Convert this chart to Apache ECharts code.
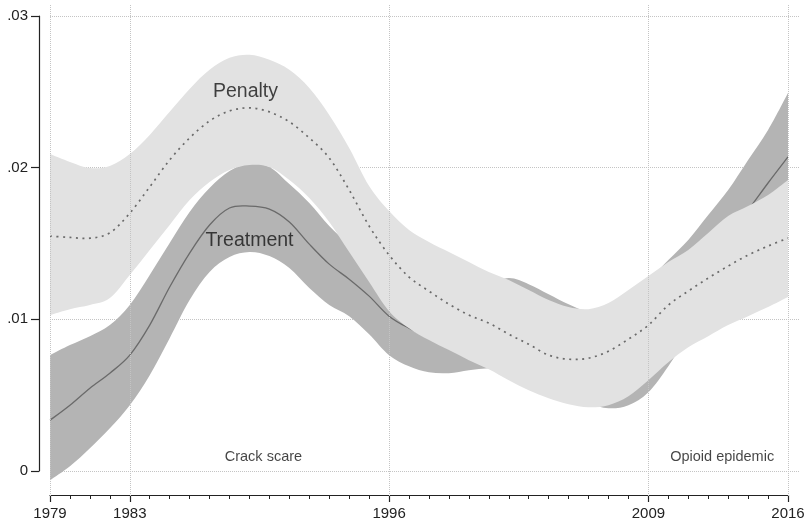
<!DOCTYPE html>
<html><head><meta charset="utf-8">
<script src="https://cdn.jsdelivr.net/npm/echarts@6/dist/echarts.min.js"></script>
<style>html,body{margin:0;padding:0;background:#fff}#c{width:810px;height:523px}</style>
</head><body><div id="c"></div>
<script>
const years = [1979,1980,1981,1982,1983,1984,1985,1986,1987,1988,1989,1990,1991,1992,1993,1994,1995,1996,1997,1998,1999,2000,2001,2002,2003,2004,2005,2006,2007,2008,2009,2010,2011,2012,2013,2014,2015,2016];
const penaltyUpper = [.02090,.02038,.01998,.02011,.02090,.02216,.02368,.02519,.02645,.02724,.02744,.02711,.02645,.02526,.02348,.02130,.01879,.01714,.01589,.01510,.01444,.01378,.01312,.01259,.01193,.01127,.01081,.01067,.01107,.01193,.01285,.01378,.01457,.01569,.01681,.01747,.01820,.01919];
const penaltyMid = [.01549,.01540,.01535,.01570,.01700,.01873,.02051,.02196,.02308,.02374,.02394,.02368,.02302,.02196,.02064,.01853,.01615,.01424,.01279,.01186,.01100,.01028,.00975,.00902,.00836,.00764,.00737,.00744,.00790,.00869,.00962,.01094,.01186,.01272,.01351,.01424,.01483,.01536];
const penaltyLower = [.01028,.01067,.01094,.01140,.01292,.01457,.01622,.01787,.01906,.01985,.02018,.02005,.01919,.01800,.01642,.01444,.01246,.01054,.00942,.00863,.00797,.00731,.00671,.00599,.00533,.00480,.00440,.00420,.00434,.00493,.00599,.00717,.00816,.00889,.00962,.01021,.01081,.01147];
const treatUpper = [.00764,.00830,.00889,.00962,.01094,.01292,.01503,.01708,.01866,.01978,.02024,.02005,.01892,.01767,.01615,.01490,.01378,.01292,.01193,.01127,.01127,.01160,.01226,.01272,.01232,.01166,.01100,.01048,.01048,.01140,.01259,.01391,.01523,.01688,.01853,.02051,.02249,.02493];
const treatMid = [.00335,.00434,.00546,.00645,.00764,.00962,.01213,.01437,.01622,.01734,.01747,.01727,.01642,.01496,.01364,.01265,.01153,.01021,.00942,.00883,.00876,.00902,.00942,.00975,.00929,.00863,.00797,.00750,.00731,.00784,.00883,.01048,.01213,.01391,.01556,.01721,.01899,.02071];
const treatLower = [-.00061,.00031,.00150,.00282,.00434,.00632,.00876,.01127,.01312,.01411,.01444,.01417,.01338,.01206,.01094,.01021,.00902,.00764,.00691,.00651,.00645,.00665,.00678,.00678,.00632,.00566,.00500,.00447,.00414,.00434,.00519,.00691,.00896,.01094,.01259,.01404,.01536,.01648];
const xTickYears = [1979,1983,1996,2009,2016];
const yTicks = [0,0.01,0.02,0.03];
const yTickLabels = ['0','.01','.02','.03'];
const seriesLabels = ['Penalty','Treatment'];
const periodLabels = ['Crack scare','Opioid epidemic'];
// label anchors in data coordinates [year, value]
const labelAnchors = [[1988.8,0.0250],[1989.0,0.0152],[1989.7,0.0009],[2012.7,0.0009]];

const FONT = "'Liberation Sans', Arial, sans-serif";

// smooth path through screen points (Catmull-Rom -> cubic Bezier)
function curveTo(pts){
  let d = '';
  const n = pts.length;
  for (let i=0;i<n-1;i++){
    const p0 = pts[Math.max(i-1,0)], p1 = pts[i], p2 = pts[i+1], p3 = pts[Math.min(i+2,n-1)];
    const c1 = [p1[0]+(p2[0]-p0[0])/6, p1[1]+(p2[1]-p0[1])/6];
    const c2 = [p2[0]-(p3[0]-p1[0])/6, p2[1]-(p3[1]-p1[1])/6];
    d += ' C'+c1[0]+','+c1[1]+' '+c2[0]+','+c2[1]+' '+p2[0]+','+p2[1];
  }
  return d;
}
function band(upper, lower, color, z){
  return {
    type:'custom', xAxisIndex:0, yAxisIndex:0, silent:true, clip:false, z:z,
    data:[[years[0], lower[0]]],
    renderItem:function(params, api){
      const up = years.map((y,i)=>api.coord([y, upper[i]]));
      const lo = years.map((y,i)=>api.coord([y, lower[i]])).reverse();
      const d = 'M'+up[0][0]+','+up[0][1] + curveTo(up) + ' L'+lo[0][0]+','+lo[0][1] + curveTo(lo) + ' Z';
      return {type:'path', shape:{pathData:d}, style:{fill:color, stroke:null}};
    }
  };
}
function centerLine(vals, style, z){
  return {
    type:'custom', xAxisIndex:0, yAxisIndex:0, silent:true, clip:false, z:z,
    data:[[years[0], vals[0]]],
    renderItem:function(params, api){
      const pts = years.map((y,i)=>api.coord([y, vals[i]]));
      const d = 'M'+pts[0][0]+','+pts[0][1] + curveTo(pts);
      return {type:'path', shape:{pathData:d}, style:Object.assign({fill:null}, style)};
    }
  };
}

const option = {
  animation:false,
  grid:[
    {left:50,right:22,top:16,bottom:52},
    {left:50,right:10,top:16,bottom:52},
    {left:50,right:22,top:5,bottom:27}
  ],
  xAxis:[
    {gridIndex:0,type:'value',position:'bottom',min:1979,max:2016,offset:24,
     axisLine:{onZero:false,lineStyle:{color:'#222',width:1.2}},
     axisTick:{customValues:xTickYears,length:7,lineStyle:{color:'#222',width:1.2}},
     axisLabel:{customValues:xTickYears,fontSize:15,color:'#222',fontFamily:FONT,margin:11,formatter:v=>String(v)},
     splitLine:{show:false}},
    {gridIndex:0,type:'value',position:'bottom',min:1979,max:2016,interval:1,offset:24,
     axisLine:{show:false,onZero:false},
     axisTick:{length:4,lineStyle:{color:'#222',width:1}},
     axisLabel:{show:false},splitLine:{show:false}},
    {gridIndex:1,type:'value',min:1979,max:2016,show:false},
    {gridIndex:2,type:'value',min:1979,max:2016,show:false}
  ],
  yAxis:[
    {gridIndex:0,type:'value',position:'left',min:0,max:0.03,interval:0.01,offset:11,
     axisLine:{show:true,onZero:false,lineStyle:{color:'#222',width:1.2}},
     axisTick:{show:true,length:8,lineStyle:{color:'#222',width:1.2}},
     axisLabel:{fontSize:15,color:'#222',fontFamily:FONT,margin:11,
       formatter:v=>{const i=yTicks.findIndex(t=>Math.abs(t-v)<1e-9);return i>=0?yTickLabels[i]:'';}},
     splitLine:{show:false}},
    {gridIndex:1,type:'value',min:0,max:0.03,interval:0.01,
     axisLine:{show:false},axisTick:{show:false},axisLabel:{show:false},
     splitLine:{show:true,lineStyle:{color:'#c4c4c4',type:'dotted',width:1}}},
    {gridIndex:2,type:'value',min:0,max:1,show:false}
  ],
  series:[
    {type:'line',xAxisIndex:3,yAxisIndex:2,data:[],silent:true,z:0,
     markLine:{symbol:'none',silent:true,label:{show:false},animation:false,
       lineStyle:{color:'#c4c4c4',type:'dotted',width:1},
       data:xTickYears.map(y=>({xAxis:y}))}},
    band(treatUpper, treatLower, '#b4b4b4', 1),
    centerLine(treatMid, {stroke:'#6a6a6a', lineWidth:1.3}, 2),
    band(penaltyUpper, penaltyLower, '#e2e2e2', 3),
    centerLine(penaltyMid, {stroke:'#6a6a6a', lineWidth:1.7, lineDash:[2,4.5]}, 4),
    {type:'scatter',xAxisIndex:0,yAxisIndex:0,symbolSize:0,silent:true,clip:false,z:5,
     data:[
       {name:seriesLabels[0],value:labelAnchors[0],label:{fontSize:19.5}},
       {name:seriesLabels[1],value:labelAnchors[1],label:{fontSize:19.5}},
       {name:periodLabels[0],value:labelAnchors[2],label:{fontSize:14.5}},
       {name:periodLabels[1],value:labelAnchors[3],label:{fontSize:14.5}}
     ],
     label:{show:true,position:[0,0],align:'center',verticalAlign:'middle',formatter:'{b}',color:'#151515',fontFamily:FONT}}
  ]
};
const chart = echarts.init(document.getElementById('c'),null,{renderer:'canvas'});
chart.setOption(option);
</script></body></html>
